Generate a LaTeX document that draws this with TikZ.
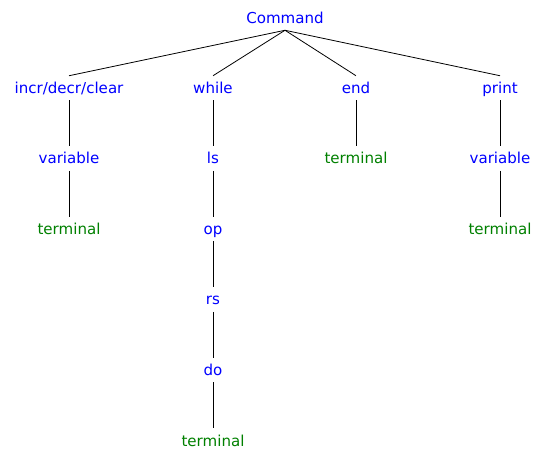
\documentclass[tikz,border=0pt]{standalone}
\usepackage{fontspec}
\setmainfont{DejaVu Sans}
\usetikzlibrary{positioning}
\definecolor{cBlue}{HTML}{0000FF}
\definecolor{cGreen}{HTML}{008000}

\begin{document}
\begin{tikzpicture}[
    font=\fontsize{11.3}{13}\selectfont,
    nt/.style={text=cBlue, inner sep=0pt, text height=10.5pt, text depth=2.5pt, minimum height=18pt},
    term/.style={nt, text=cGreen},
    edge/.style={draw=black, line width=0.6pt},
    node distance=34.5pt
]
\useasboundingbox (0,0) rectangle (412.5pt,-338.25pt);

\node[nt] (cmd) at (213.75pt,-13.5pt) {Command};

\node[nt] (incr) at (51.75pt,-66pt) {incr/decr/clear};
\node[nt] (while) at (159.75pt,-66pt) {while};
\node[nt] (end) at (267pt,-66pt) {end};
\node[nt] (print) at (375pt,-66pt) {print};

\node[nt, below=of incr] (var1) {variable};
\node[term, below=of var1] (term1) {terminal};

\node[nt, below=of while] (ls) {ls};
\node[nt, below=of ls] (op) {op};
\node[nt, below=of op] (rs) {rs};
\node[nt, below=of rs] (do) {do};
\node[term, below=of do] (term2) {terminal};

\node[term, below=of end] (term3) {terminal};

\node[nt, below=of print] (var2) {variable};
\node[term, below=of var2] (term4) {terminal};

\draw[edge] (cmd.south) -- (incr.north);
\draw[edge] (cmd.south) -- (while.north);
\draw[edge] (cmd.south) -- (end.north);
\draw[edge] (cmd.south) -- (print.north);
\draw[edge] (incr) -- (var1);
\draw[edge] (var1) -- (term1);
\draw[edge] (while) -- (ls);
\draw[edge] (ls) -- (op);
\draw[edge] (op) -- (rs);
\draw[edge] (rs) -- (do);
\draw[edge] (do) -- (term2);
\draw[edge] (end) -- (term3);
\draw[edge] (print) -- (var2);
\draw[edge] (var2) -- (term4);
\end{tikzpicture}
\end{document}
